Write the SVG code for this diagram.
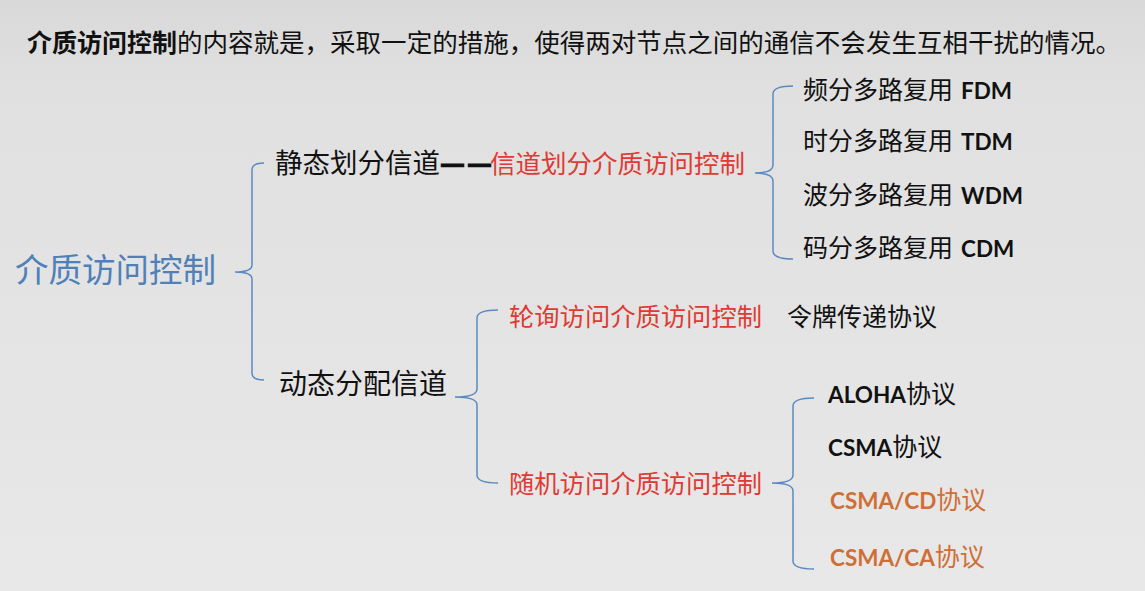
<svg xmlns="http://www.w3.org/2000/svg" width="1145" height="591" viewBox="0 0 1145 591">
<defs>
<linearGradient id="bg" x1="0" y1="0" x2="0" y2="1">
<stop offset="0" stop-color="#d9d9d9"/>
<stop offset="0.15" stop-color="#e0e0e0"/>
<stop offset="1" stop-color="#e8e8e8"/>
</linearGradient>
<style>
text{font-family:"Noto Sans CJK SC","Noto Sans",sans-serif;}
.lat{font-family:Lato,"Noto Sans CJK SC",sans-serif;font-weight:bold;font-size:22.5px;}
.blk{fill:#111;}
.red{fill:#df3a33;}
.org{fill:#cf6f35;}
.brace{fill:none;stroke:#5b8ac0;stroke-width:1.5;}
</style>
</defs>
<rect width="1145" height="591" fill="url(#bg)"/>
<g id="title">
<text x="27" y="52" font-size="25" class="blk"><tspan font-weight="bold">介质访问控制</tspan><tspan font-size="25.5" textLength="944" lengthAdjust="spacing">的内容就是，采取一定的措施，使得两对节点之间的通信不会发生互相干扰的情况。</tspan></text>
</g>
<g id="connectors">
<path class="brace" d="M264,163 Q252,163 252,170 L252,265 Q252,272 235,272 Q252,272 252,279 L252,373 Q252,380 264,380"/>
<path class="brace" d="M793,86 Q773,86 773,94 L773,165 Q773,173 755,173 Q773,173 773,181 L773,251 Q773,259 793,259"/>
<path class="brace" d="M498,310 Q477,310 477,318 L477,389 Q477,397 455,397 Q477,397 477,405 L477,475 Q477,483 498,483"/>
<path class="brace" d="M814,398 Q793,398 793,406 L793,475 Q793,483 772,483 Q793,483 793,491 L793,561 Q793,569 814,569"/>
</g>
<g id="root">
<text x="15" y="282" font-size="33" fill="#4f80b8" textLength="201" lengthAdjust="spacingAndGlyphs">介质访问控制</text>
</g>
<g id="static">
<text x="275" y="173" font-size="27.5" class="blk">静态划分信道<tspan font-weight="bold" stroke="#111" stroke-width="1.2">—</tspan><tspan font-weight="bold" stroke="#111" stroke-width="1.2" x="467">—</tspan><tspan class="red" font-size="25.5" x="490" textLength="255" lengthAdjust="spacing">信道划分介质访问控制</tspan></text>
</g>
<g id="fdm"><text x="803" y="99" font-size="25" class="blk">频分多路复用<tspan class="lat" x="961">FDM</tspan></text></g>
<g id="tdm"><text x="803" y="150" font-size="25" class="blk">时分多路复用<tspan class="lat" x="961">TDM</tspan></text></g>
<g id="wdm"><text x="803" y="204" font-size="25" class="blk">波分多路复用<tspan class="lat" x="961">WDM</tspan></text></g>
<g id="cdm"><text x="803" y="257" font-size="25" class="blk">码分多路复用<tspan class="lat" x="961">CDM</tspan></text></g>
<g id="dynamic"><text x="279" y="394" font-size="28" class="blk">动态分配信道</text></g>
<g id="polling"><text x="509" y="326" font-size="25.3" class="red">轮询访问介质访问控制</text></g>
<g id="token"><text x="787" y="326" font-size="25" class="blk">令牌传递协议</text></g>
<g id="random"><text x="509" y="493" font-size="25.3" class="red">随机访问介质访问控制</text></g>
<g id="aloha"><text x="828" y="403" font-size="25" class="blk"><tspan class="lat">ALOHA</tspan>协议</text></g>
<g id="csma"><text x="828" y="456" font-size="25" class="blk"><tspan class="lat">CSMA</tspan>协议</text></g>
<g id="csmacd"><text x="830" y="509" font-size="25" class="org"><tspan class="lat">CSMA/CD</tspan>协议</text></g>
<g id="csmaca"><text x="830" y="566" font-size="25" class="org"><tspan class="lat">CSMA/CA</tspan>协议</text></g>
</svg>
